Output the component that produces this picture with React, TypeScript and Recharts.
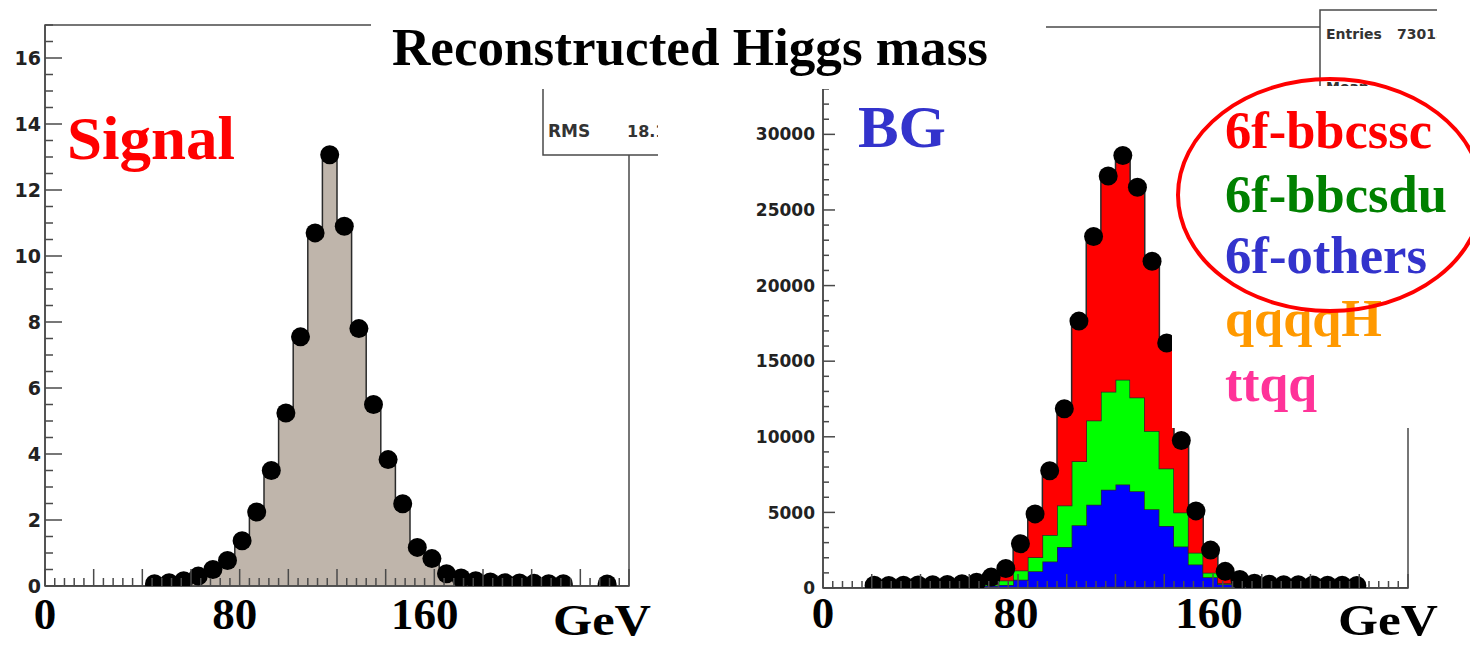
import {
  ComposedChart,
  Area,
  Scatter,
  XAxis,
  YAxis,
  ReferenceArea,
} from 'recharts'

// 40 bins of 6 GeV covering 0-240 GeV
const BIN_GEV = 6
const N_BINS = 40

// signal sample, entries per bin
const signal = [
  0, 0, 0, 0, 0, 0, 0, 0.07, 0.1, 0.16, 0.3, 0.5, 0.77, 1.37, 2.24, 3.5, 5.24, 7.55, 10.7, 13.07,
  10.9, 7.8, 5.5, 3.83, 2.49, 1.17, 0.83, 0.37, 0.24, 0.16, 0.12, 0.1, 0.09, 0.08, 0.07, 0.07, 0, 0, 0.06, 0,
]

// background samples, stacked bottom to top
const ttqq = [
  0, 0, 0, 0, 0, 0, 0, 0, 0, 0, 0, 0, 0, 0, 10, 15, 20, 25, 30, 30,
  30, 25, 20, 15, 10, 10, 5, 0, 0, 0, 0, 0, 0, 0, 0, 0, 0, 0, 0, 0,
]
const qqqqH = [
  0, 0, 0, 0, 0, 0, 0, 0, 0, 0, 0, 0, 0, 0, 0, 0, 15, 25, 40, 50,
  50, 40, 25, 15, 0, 0, 0, 0, 0, 0, 0, 0, 0, 0, 0, 0, 0, 0, 0, 0,
]
const others6f = [
  0, 0, 0, 60, 60, 70, 70, 70, 80, 90, 120, 150, 200, 550, 1090, 1740, 2670, 4100, 5430, 6420,
  6770, 6340, 5160, 4070, 2740, 1540, 700, 250, 100, 80, 70, 60, 60, 60, 60, 50, 50, 0, 0, 0,
]
const bbcsdu6f = [
  0, 0, 0, 40, 40, 40, 40, 50, 50, 50, 70, 100, 300, 610, 940, 1750, 2750, 4230, 5580, 6480,
  6930, 6200, 5180, 3800, 2250, 780, 300, 70, 40, 40, 40, 40, 40, 40, 40, 30, 30, 0, 0, 0,
]
const bbcssc6f = [
  0, 0, 0, 80, 70, 80, 90, 90, 100, 140, 190, 470, 790, 1770, 2860, 4250, 6400, 9270, 12170, 14270,
  14820, 13900, 11220, 8300, 4750, 2770, 1500, 780, 420, 200, 140, 120, 110, 100, 90, 110, 90, 0, 0, 0,
]

const massTicks = Array.from({ length: 61 }, (_, i) => i * 4)
const massLabels = [0, 80, 160]
const signalTicks = Array.from({ length: 35 }, (_, i) => i * 0.5)
const bgTicks = Array.from({ length: 36 }, (_, i) => i * 1000)

const legendItems = [
  { name: '6f-bbcssc', color: '#ff0000', y: 148, len: 207 },
  { name: '6f-bbcsdu', color: '#008000', y: 212, len: 222 },
  { name: '6f-others', color: '#3333cc', y: 273, len: 202 },
  { name: 'qqqqH', color: '#ff9900', y: 336, len: 157 },
  { name: 'ttqq', color: '#ff3399', y: 401, len: 92 },
]

const AXIS = '#4a4a4a'
const OUTLINE = '#2a2a2a'
const ROOT_FONT = '"DejaVu Sans", sans-serif'
const SERIF = '"Liberation Serif", "Times New Roman", serif'

// step rows: one point per lower bin edge plus a closing point at 240 GeV
const signalRows = signal.map((v, i) => ({ x: i * BIN_GEV, v }))
signalRows.push({ x: N_BINS * BIN_GEV, v: signal[N_BINS - 1] })

const bgRow = (i: number, x: number) => ({
  x,
  ttqq: ttqq[i],
  qqqqH: qqqqH[i],
  others: others6f[i],
  bbcsdu: bbcsdu6f[i],
  bbcssc: bbcssc6f[i],
})
const bgRows = bbcssc6f.map((_, i) => bgRow(i, i * BIN_GEV))
bgRows.push(bgRow(N_BINS - 1, N_BINS * BIN_GEV))

// markers at bin centres, empty bins left out
const signalDots = signal
  .map((v, i) => ({ x: (i + 0.5) * BIN_GEV, y: v }))
  .filter((d) => d.y > 0)
const bgDots = bbcssc6f
  .map((_, i) => ({
    x: (i + 0.5) * BIN_GEV,
    y: ttqq[i] + qqqqH[i] + others6f[i] + bbcsdu6f[i] + bbcssc6f[i],
  }))
  .filter((d) => d.y > 0)

const marker = (r: number) => (props: any) =>
  <circle cx={props.cx} cy={props.cy} r={r} fill="#000" />

// ROOT style: ticks point into the frame
function massTick(major: number, minor: number, labelDy: number, shift: number) {
  return (props: any) => {
    const { x, y, payload } = props
    const v = payload.value as number
    const len = v % 20 === 0 ? major : minor
    return (
      <g>
        <line x1={x} x2={x} y1={y} y2={y - len} stroke={AXIS} strokeWidth={1.5} />
        {massLabels.includes(v) && (
          <text
            x={x - v * shift}
            y={y + labelDy}
            textAnchor="middle"
            fontFamily={SERIF}
            fontWeight="bold"
            fontSize={45}
            fill="#000"
          >
            {v}
          </text>
        )}
      </g>
    )
  }
}

function countTick(step: number, maxLabel: number, major: number, minor: number, gap: number, fontSize: number) {
  return (props: any) => {
    const { x, y, payload } = props
    const v = payload.value as number
    const isMajor = v % step === 0
    return (
      <g>
        <line x1={x} x2={x + (isMajor ? major : minor)} y1={y} y2={y} stroke={AXIS} strokeWidth={1.5} />
        {isMajor && v <= maxLabel && (
          <text
            x={x - gap}
            y={y}
            dy="0.36em"
            textAnchor="end"
            fontFamily={ROOT_FONT}
            fontWeight="bold"
            fontSize={fontSize}
            fill="#222"
          >
            {v}
          </text>
        )}
      </g>
    )
  }
}

function SignalPlot() {
  return (
    <ComposedChart
      width={660}
      height={645}
      data={signalRows}
      margin={{ top: 25, right: 31, bottom: 0, left: 0 }}
    >
      <XAxis
        dataKey="x"
        type="number"
        domain={[0, 240]}
        allowDataOverflow
        ticks={massTicks}
        interval={0}
        height={59}
        tickSize={0}
        tickMargin={0}
        tickLine={false}
        axisLine={{ stroke: AXIS, strokeWidth: 1.5 }}
        tick={massTick(17, 8, 43, 0.06)}
      />
      <YAxis
        type="number"
        domain={[0, 17]}
        allowDataOverflow
        ticks={signalTicks}
        interval={0}
        width={45}
        tickSize={0}
        tickMargin={0}
        tickLine={false}
        axisLine={{ stroke: AXIS, strokeWidth: 1.5 }}
        tick={countTick(2, 16, 17, 8, 4, 19)}
      />
      <Area
        type="stepAfter"
        dataKey="v"
        fill="#bfb5ab"
        fillOpacity={1}
        stroke={OUTLINE}
        strokeWidth={1.5}
        dot={false}
        activeDot={false}
        isAnimationActive={false}
      />
      <ReferenceArea x1={0} x2={240} y1={0} y2={17} fill="none" stroke={AXIS} strokeWidth={1.5} />
      <Scatter data={signalDots} dataKey="y" shape={marker(9.5)} isAnimationActive={false} />
    </ComposedChart>
  )
}

function BackgroundPlot() {
  const layer = (key: string, color: string) => (
    <Area
      key={key}
      type="stepAfter"
      dataKey={key}
      stackId="bg"
      fill={color}
      fillOpacity={1}
      stroke={OUTLINE}
      strokeWidth={1.5}
      dot={false}
      activeDot={false}
      isAnimationActive={false}
    />
  )
  return (
    <ComposedChart
      width={770}
      height={645}
      data={bgRows}
      margin={{ top: 27, right: 62, bottom: 0, left: 0 }}
    >
      <XAxis
        dataKey="x"
        type="number"
        domain={[0, 240]}
        allowDataOverflow
        ticks={massTicks}
        interval={0}
        height={57}
        tickSize={0}
        tickMargin={0}
        tickLine={false}
        axisLine={{ stroke: AXIS, strokeWidth: 1.5 }}
        tick={massTick(14, 7, 40, 0.025)}
      />
      <YAxis
        type="number"
        domain={[0, 37100]}
        allowDataOverflow
        ticks={bgTicks}
        interval={0}
        width={123}
        tickSize={0}
        tickMargin={0}
        tickLine={false}
        axisLine={{ stroke: AXIS, strokeWidth: 1.5 }}
        tick={countTick(5000, 30000, 12, 6, 8, 17)}
      />
      {layer('ttqq', '#ff3399')}
      {layer('qqqqH', '#ff9900')}
      {layer('others', '#0000ff')}
      {layer('bbcsdu', '#00ff00')}
      {layer('bbcssc', '#ff0000')}
      <ReferenceArea x1={0} x2={240} y1={0} y2={37100} fill="none" stroke={AXIS} strokeWidth={1.5} />
      <Scatter data={bgDots} dataKey="y" shape={marker(9.5)} isAnimationActive={false} />
    </ComposedChart>
  )
}

function Annotations() {
  return (
    <svg
      width={1470}
      height={645}
      style={{ position: 'absolute', left: 0, top: 0, pointerEvents: 'none' }}
    >
      <defs>
        <clipPath id="statsLeft">
          <rect x={543} y={60} width={115} height={95} />
        </clipPath>
        <clipPath id="statsRight">
          <rect x={1320} y={10} width={117} height={80} />
        </clipPath>
      </defs>

      {/* stats boxes */}
      <rect x={543} y={60} width={115} height={95} fill="#fff" />
      <path d="M543 60 V155 H658" fill="none" stroke={AXIS} strokeWidth={1.5} />
      <g clipPath="url(#statsLeft)" fontFamily={ROOT_FONT} fontWeight="bold" fill="#333">
        <text x={548} y={137} fontSize={17}>RMS</text>
        <text x={627} y={137} fontSize={16}>18.15</text>
      </g>
      <rect x={1320} y={10} width={150} height={80} fill="#fff" />
      <path d="M1320 90 V10 H1437" fill="none" stroke={AXIS} strokeWidth={1.5} />
      <g clipPath="url(#statsRight)" fontFamily={ROOT_FONT} fontWeight="bold" fontSize={14} fill="#333">
        <text x={1326} y={39}>Entries</text>
        <text x={1397} y={39}>73015</text>
        <text x={1326} y={92}>Mean</text>
      </g>

      {/* title and legend backgrounds */}
      <rect x={371} y={0} width={675} height={89} fill="#fff" />
      <rect x={1172} y={86} width={298} height={342} fill="#fff" />

      <g fontFamily={SERIF} fontWeight="bold">
        <text x={392} y={65} fontSize={52} textLength={596} lengthAdjust="spacingAndGlyphs" fill="#000">
          Reconstructed Higgs mass
        </text>
        <text x={67} y={159} fontSize={62} textLength={168} lengthAdjust="spacingAndGlyphs" fill="#ff0000">
          Signal
        </text>
        <text x={858} y={147} fontSize={60} textLength={88} lengthAdjust="spacingAndGlyphs" fill="#3333cc">
          BG
        </text>
        {legendItems.map((item) => (
          <text
            key={item.name}
            x={1225}
            y={item.y}
            fontSize={53}
            textLength={item.len}
            lengthAdjust="spacingAndGlyphs"
            fill={item.color}
          >
            {item.name}
          </text>
        ))}
        <text x={553} y={635} fontSize={45} textLength={98} lengthAdjust="spacingAndGlyphs" fill="#000">
          GeV
        </text>
        <text x={1338} y={635} fontSize={45} textLength={100} lengthAdjust="spacingAndGlyphs" fill="#000">
          GeV
        </text>
      </g>

      <ellipse cx={1330} cy={195} rx={152} ry={116} fill="none" stroke="#ff0000" strokeWidth={4} />
    </svg>
  )
}

export default function App() {
  return (
    <div
      style={{
        position: 'absolute',
        left: 0,
        top: 0,
        width: 1470,
        height: 645,
        background: '#fff',
        overflow: 'hidden',
      }}
    >
      <div style={{ position: 'absolute', left: 0, top: 0 }}>
        <SignalPlot />
      </div>
      <div style={{ position: 'absolute', left: 700, top: 0 }}>
        <BackgroundPlot />
      </div>
      <Annotations />
    </div>
  )
}
